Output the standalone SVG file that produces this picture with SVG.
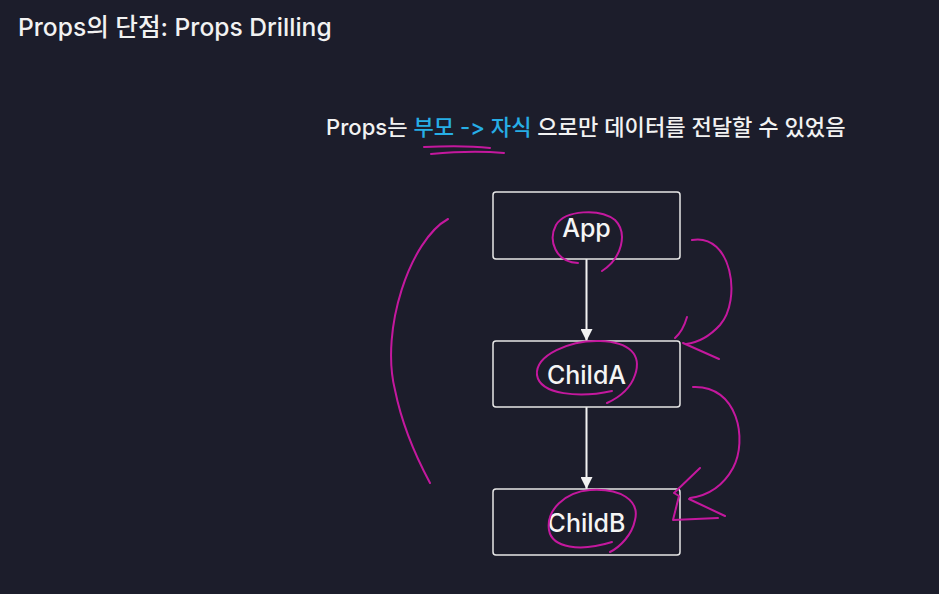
<svg xmlns="http://www.w3.org/2000/svg" width="939" height="594" viewBox="0 0 939 594">
<defs>
<style>
.t{font-family:Inter,"Noto Sans CJK KR","Noto Sans",sans-serif;fill:#f2f2f2;font-weight:500}
.box{fill:#1c1d2b;stroke:#e6e6e6;stroke-width:1.5}
.lbl{font-family:Inter,"Noto Sans CJK KR",sans-serif;font-size:25px;font-weight:500;fill:#f5f5f5;text-anchor:middle}
.edge{stroke:#f2f2f2;stroke-width:2;fill:none}
.ink{stroke:#c4189e;stroke-width:2;fill:none;stroke-linecap:round;stroke-linejoin:round}
</style>
<marker id="ah" viewBox="0 0 12 12" refX="12" refY="6" markerWidth="12" markerHeight="12" markerUnits="userSpaceOnUse" orient="auto">
<path d="M0 0 L12 6 L0 12 Z" fill="#f2f2f2"/>
</marker>
</defs>
<rect width="939" height="594" fill="#1c1d2b"/>
<text class="t" x="18" y="36" font-size="24.6">Props의 단점: Props Drilling</text>
<text class="t" x="326" y="135" font-size="22.1">Props는 <tspan fill="#27aee6">부모 -&gt; 자식</tspan> 으로만 데이터를 전달할 수 있었음</text>
<g id="connectors">
<path class="edge" d="M586.5 259 L586.5 341" marker-end="url(#ah)"/>
<path class="edge" d="M586.5 407 L586.5 489" marker-end="url(#ah)"/>
</g>
<g id="app">
<rect class="box" x="493" y="192" width="187" height="67" rx="3"/>
<text class="lbl" x="586.5" y="237">App</text>
</g>
<g id="childA">
<rect class="box" x="493" y="341" width="187" height="66" rx="3"/>
<text class="lbl" x="586.5" y="384">ChildA</text>
</g>
<g id="childB">
<rect class="box" x="493" y="489" width="187" height="66" rx="3"/>
<text class="lbl" x="586.5" y="532">ChildB</text>
</g>
<g id="annotations">
<path class="ink" d="M424 147 C443 146 473 146 490 148"/>
<path class="ink" d="M431 154 C452 152 482 151 504 153"/>
<path class="ink" d="M578 263 C555 262 548 240 556 225 C565 210 600 208 615 220 C628 233 622 258 602 271"/>
<path class="ink" d="M612 391 C580 398 540 395 537 375 C535 355 570 340 600 341 C630 342 642 355 635 375 C630 390 618 398 607 403"/>
<path class="ink" d="M612 542 C580 552 552 548 549 530 C546 510 565 492 590 490 C620 488 640 500 635 520 C632 535 620 547 610 552"/>
<path class="ink" d="M448 219 C410 240 380 330 395 390 C402 425 415 455 430 483"/>
<path class="ink" d="M692 240 C732 233 742 300 720 325 C708 338 695 343 686 344"/>
<path class="ink" d="M687 317 Q683 331 675 338"/>
<path class="ink" d="M683 343 L719 359"/>
<path class="ink" d="M693 387 C738 385 748 440 733 468 C722 488 705 496 690 498"/>
<path class="ink" d="M700 468 L674 493 L679 496 L673 520 L718 518"/>
<path class="ink" d="M689 499 L725 516"/>
</g>
</svg>
